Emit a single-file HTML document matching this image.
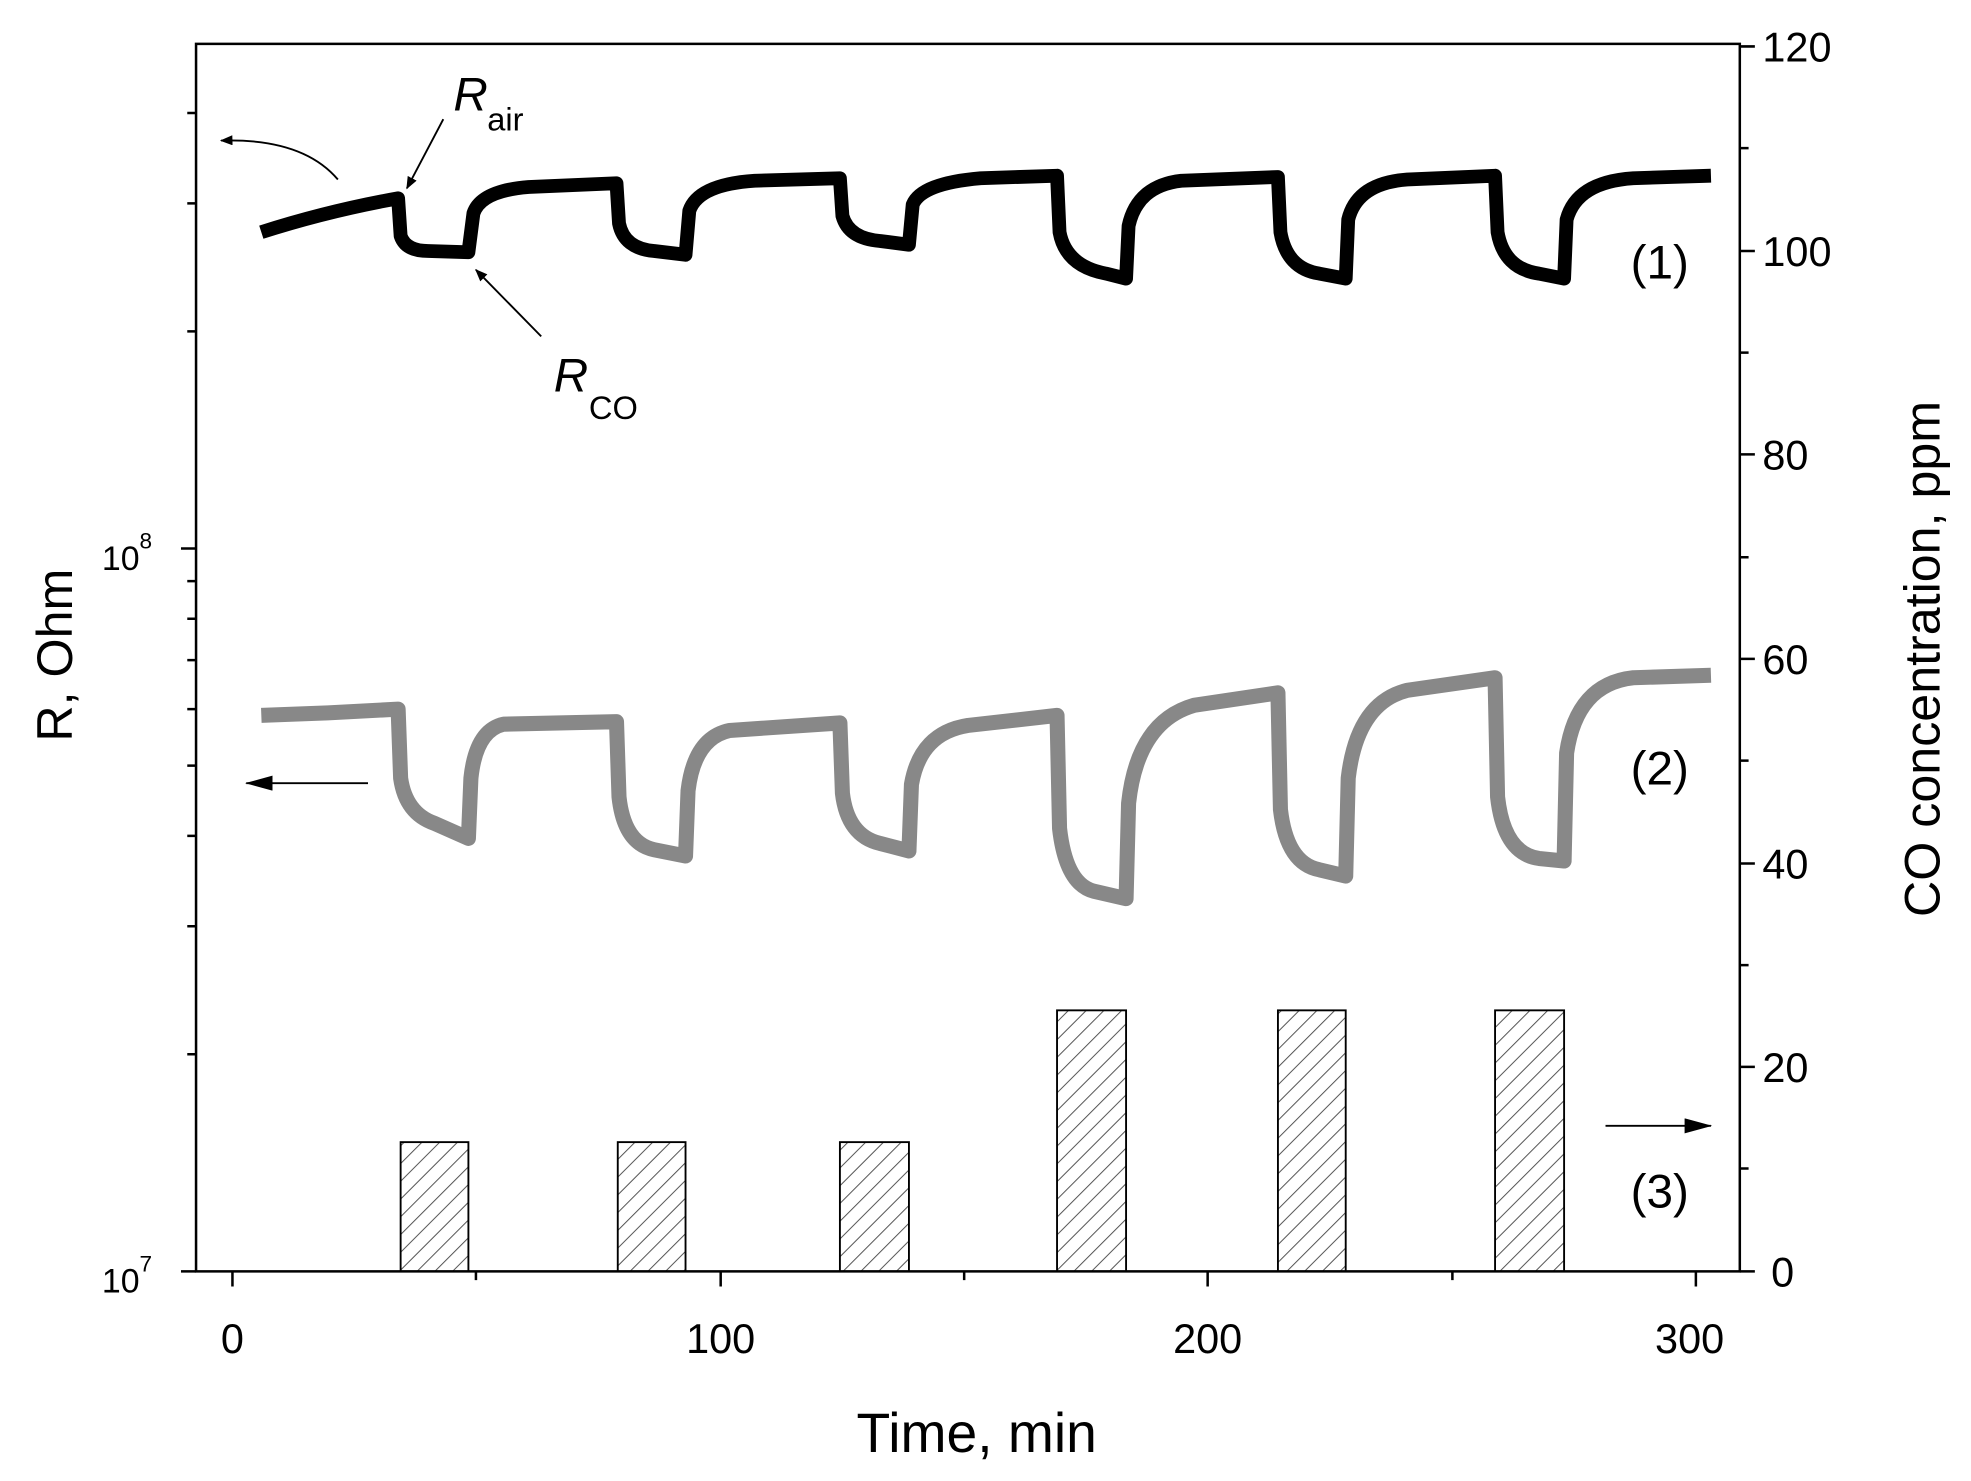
<!DOCTYPE html>
<html><head><style>html,body{margin:0;padding:0;background:#fff}svg{display:block}</style></head><body>
<svg width="1971" height="1481" viewBox="0 0 1568 1180" xmlns="http://www.w3.org/2000/svg" font-family="Liberation Sans, sans-serif">
<defs>
<pattern id="h" width="10" height="10" patternUnits="userSpaceOnUse" patternTransform="rotate(45)">
<line x1="0" y1="0" x2="0" y2="10" stroke="#555" stroke-width="1.6"/>
</pattern>
<marker id="a" markerWidth="10" markerHeight="8" refX="9" refY="4" orient="auto" markerUnits="userSpaceOnUse"><path d="M0,0 L10,4 L0,8 z" fill="#000"/></marker>
<marker id="b" markerWidth="22" markerHeight="12" refX="21" refY="6" orient="auto" markerUnits="userSpaceOnUse"><path d="M0,0 L22,6 L0,12 z" fill="#000"/></marker>
</defs>
<rect width="1568" height="1180" fill="#fff"/>
<g fill="url(#h)" stroke="#000" stroke-width="1.5">
<rect x="318" y="910" width="54" height="103"/>
<rect x="491" y="910" width="54" height="103"/>
<rect x="668" y="910" width="55" height="103"/>
<rect x="841" y="805" width="55" height="208"/>
<rect x="1017" y="805" width="54" height="208"/>
<rect x="1190" y="805" width="55" height="208"/>
</g>
<g stroke="#000" stroke-width="2" fill="none">
<path d="M155,35 H1385 V1013 H155 Z"/>
<path d="M184,1013 v12 M573,1013 v12 M961,1013 v12 M1350,1013 v12 M378,1013 v7 M767,1013 v7 M1156,1013 v7"/>
<path d="M155,1013 h-12 M155,437 h-12 M155,840 h-7 M155,738 h-7 M155,666 h-7 M155,610 h-7 M155,565 h-7 M155,526 h-7 M155,493 h-7 M155,463 h-7 M155,264 h-7 M155,162 h-7 M155,90 h-7"/>
<path d="M1385,1013 h12 M1385,850 h12 M1385,688 h12 M1385,525 h12 M1385,362 h12 M1385,200 h12 M1385,37 h12 M1385,931 h7 M1385,769 h7 M1385,606 h7 M1385,444 h7 M1385,281 h7 M1385,118 h7"/>
</g>
<path fill="none" stroke="#000" stroke-width="11" stroke-linejoin="round" d="M207,185 Q260,168 316,158 L318,188 Q322,200 340,200 L372,201 L376,170 Q382,152 420,149 L490,146 L492,178 Q496,198 520,200 L545,203 L548,168 Q555,147 600,144 L668,142 L670,172 Q675,190 700,192 L723,195 L726,163 Q733,146 780,142 L841,140 L843,185 Q848,212 880,218 L896,222 L898,180 Q905,148 940,144 L1017,141 L1019,185 Q1024,214 1050,218 L1071,222 L1073,175 Q1080,146 1120,143 L1190,140 L1192,185 Q1197,214 1225,218 L1245,222 L1247,175 Q1255,145 1300,142 L1362,140"/>
<path fill="none" stroke="#888" stroke-width="12" stroke-linejoin="round" d="M207,570 L260,568 L316,565 L318,620 Q322,648 345,656 L372,668 L374,620 Q378,582 400,577 L490,575 L492,635 Q496,672 520,677 L545,682 L547,630 Q552,588 580,582 L668,576 L670,632 Q674,666 700,672 L723,678 L725,625 Q732,584 770,578 L841,570 L843,660 Q848,704 870,710 L896,716 L898,640 Q905,575 950,562 L1017,552 L1019,645 Q1024,688 1050,693 L1071,698 L1073,620 Q1080,560 1120,550 L1190,540 L1192,635 Q1197,680 1225,684 L1245,686 L1247,600 Q1255,545 1300,540 L1362,538"/>
<g stroke="#000" stroke-width="1.5" fill="none">
<path d="M352,95 L323,150" marker-end="url(#a)"/>
<path d="M430,268 L378,215" marker-end="url(#a)"/>
<path d="M268,143 Q240,110 175,112" marker-end="url(#a)"/>
<path d="M292,624 L195,624" marker-end="url(#b)"/>
<path d="M1278,897 L1362,897" marker-end="url(#b)"/>
</g>
<g font-size="38" fill="#000">
<text x="360" y="88" font-style="italic">R</text><text x="387" y="104" font-size="26">air</text>
<text x="440" y="312" font-style="italic">R</text><text x="468" y="334" font-size="26">CO</text>
<text x="1298" y="222">(1)</text>
<text x="1298" y="625">(2)</text>
<text x="1298" y="962">(3)</text>
</g>
<g font-size="33" text-anchor="middle" fill="#000">
<text x="184" y="1078">0</text><text x="573" y="1078">100</text><text x="961" y="1078">200</text><text x="1345" y="1078">300</text>
</g>
<g font-size="33" fill="#000">
<text x="1410" y="1025">0</text><text x="1403" y="862">20</text><text x="1403" y="700">40</text><text x="1403" y="537">60</text><text x="1403" y="374">80</text><text x="1403" y="212">100</text><text x="1403" y="49">120</text>
</g>
<g font-size="27" fill="#000">
<text x="80" y="1030">10</text><text x="110" y="1013" font-size="18">7</text>
<text x="80" y="454">10</text><text x="110" y="437" font-size="18">8</text>
</g>
<text x="777" y="1157" font-size="44" text-anchor="middle">Time, min</text>
<text transform="translate(56,522) rotate(-90)" font-size="40" text-anchor="middle">R, Ohm</text>
<text transform="translate(1544,525) rotate(-90)" font-size="40" text-anchor="middle">CO concentration, ppm</text>
</svg>
</body></html>
